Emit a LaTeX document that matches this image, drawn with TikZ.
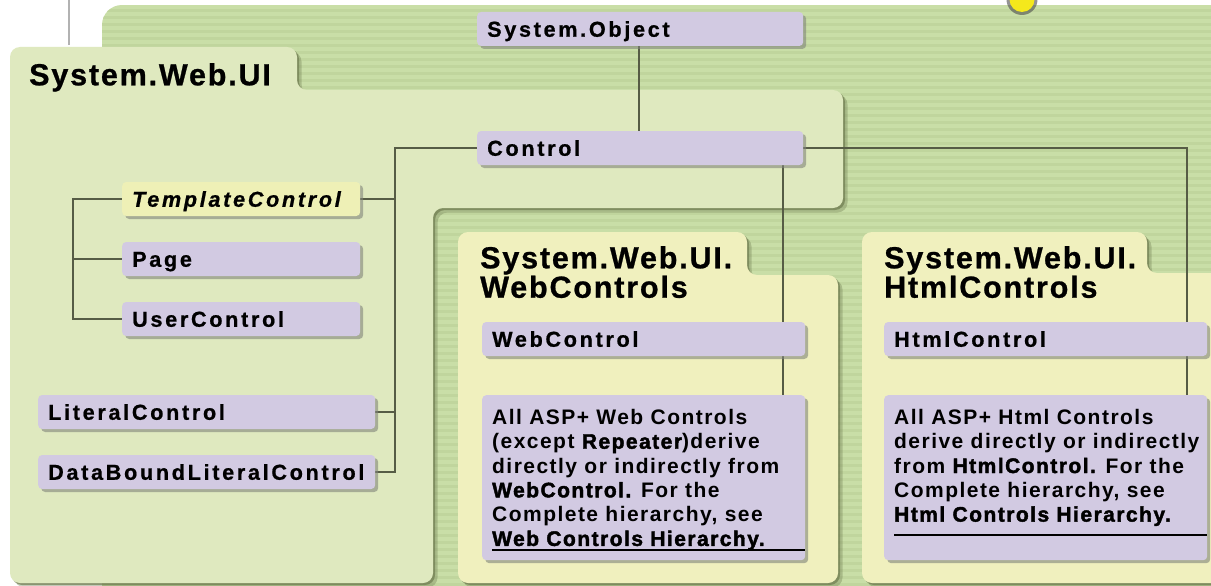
\documentclass[tikz,border=0pt]{standalone}
\usepackage{fontspec}
\setmainfont{Liberation Sans}
\newfontfamily\lblfont{Liberation Sans}[LetterSpace=12.5, FakeBold=0.8]
\newfontfamily\ttlfont{Liberation Sans}[LetterSpace=6, FakeBold=0.8]
\newfontfamily\dscfont{Liberation Sans Bold}[LetterSpace=7]
\newfontfamily\dschv{Liberation Sans Bold}[LetterSpace=7, FakeBold=2]
\newcommand\hv[1]{{\dschv #1}}
\usetikzlibrary{shadows}
\definecolor{bggreen}{HTML}{C9DEA7}
\definecolor{bgstripe}{HTML}{C0D59D}
\definecolor{uipanel}{HTML}{DFE9BF}
\definecolor{ylpanel}{HTML}{F0F0BE}
\definecolor{lav}{HTML}{D2CAE2}
\definecolor{tmplyel}{HTML}{EEF0B6}
\definecolor{conncol}{HTML}{565C45}
\definecolor{pshadow}{HTML}{6F7C50}
\definecolor{bshadow}{HTML}{80847A}
\definecolor{circyel}{HTML}{F4E81C}
\pgfdeclarelayer{panels}
\pgfdeclarelayer{lines}
\pgfsetlayers{panels,lines,main}
\newcommand\pWebUI{(10,583) -- (10,47) -- (297,47) -- (297,90) -- (843,90) -- (843,208) -- (433,208) -- (433,583) -- cycle}
\newcommand\pWebCtl{(458,583) -- (458,232) -- (747,232) -- (747,275) -- (838,275) -- (838,583) -- cycle}
\newcommand\pHtmlCtl{(862,583) -- (862,232) -- (1147,232) -- (1147,273) -- (1260,273) -- (1260,583) -- cycle}
\newcommand\drawpanel[2]{%
  \fill[pshadow,opacity=.35,rounded corners=10,shift={(4.5,4.5)}] #2;
  \fill[pshadow,opacity=.7,rounded corners=10,shift={(2,2)}] #2;
  \fill[#1,rounded corners=10] #2;}
\tikzset{
  lbl/.style={fill=lav, rounded corners=4, anchor=west, minimum height=34,
    inner xsep=10, inner ysep=0, text height=15.5, text depth=0,
    text width=#1, align=left,
    font=\lblfont\bfseries\fontsize{21.6}{24}\selectfont,
    drop shadow={shadow xshift=3pt, shadow yshift=-3pt, fill=bshadow, opacity=.6}},
  desc/.style={fill=lav, rounded corners=4, anchor=north west,
    inner xsep=10, inner ysep=14,
    drop shadow={shadow xshift=3pt, shadow yshift=-3pt, fill=bshadow, opacity=.6}},
  ttl/.style={anchor=north west, inner sep=0, align=left,
    font=\ttlfont\bfseries\fontsize{30.5}{25.5}\selectfont},
  conn/.style={draw=conncol, line width=2.4}
}
\begin{document}
\begin{tikzpicture}[x=1pt,y=-1pt]
\useasboundingbox (0,0) rectangle (1211,586);
% ---------- nodes ----------
\node[lbl=306] (sysobj) at (477,29) {System.Object};
\node[lbl=306] (control) at (477,148) {Control};
\node[lbl=218, fill=tmplyel] (template) at (122,199) {\itshape TemplateControl};
\node[lbl=218] (page) at (122,259) {Page};
\node[lbl=218] (userctl) at (122,319) {UserControl};
\node[lbl=317] (literal) at (38,412) {LiteralControl};
\node[lbl=317] (databound) at (38,472) {DataBoundLiteralControl};
\node[lbl=303] (webctl) at (482,339) {WebControl};
\node[lbl=303] (htmlctl) at (884,339) {HtmlControl};
\node[desc] (webdesc) at (482,395) {\parbox[c][137pt][t]{303pt}{\dscfont\fontsize{21}{24.3}\selectfont
\mbox{All ASP+ Web Controls}\\
\mbox{(except \hv{Repeater})derive}\\
\mbox{directly or indirectly from}\\
\mbox{\hv{WebControl.} For the}\\
\mbox{Complete hierarchy, see}\\
\makebox[0pt][l]{\rule[-5.2pt]{313pt}{2pt}}\mbox{\hv{Web Controls Hierarchy.}}}};
\node[desc] (htmldesc) at (884,395) {\parbox[c][137pt][t]{303pt}{\dscfont\fontsize{21}{24.3}\selectfont
\mbox{All ASP+ Html Controls}\\
\mbox{derive directly or indirectly}\\
\mbox{from \hv{HtmlControl.} For the}\\
\mbox{Complete hierarchy, see}\\
\makebox[0pt][l]{\rule[-14.5pt]{313pt}{2pt}}\mbox{\hv{Html Controls Hierarchy.}}}};
\node[ttl] (tUI) at (29,63) {System.Web.UI};
\node[ttl] (tWeb) at (480,246) {System.Web.UI.\\WebControls};
\node[ttl] (tHtml) at (884,246) {System.Web.UI.\\HtmlControls};
% ---------- connectors ----------
\coordinate (cx) at (639,0);
\coordinate (lbus) at (395,148);
\coordinate (tbus) at (73,199);
\coordinate (rbus) at (1187,148);
\coordinate (wx) at (783,0);
\begin{pgfonlayer}{lines}
\draw[conn] (sysobj.south -| cx) -- (control.north -| cx);
\draw[conn] (control.west) -- (lbus) -- (lbus |- databound.east) -- (databound.east);
\draw[conn] (template.east) -- (template.east -| lbus);
\draw[conn] (literal.east) -- (literal.east -| lbus);
\draw[conn] (template.west) -- (tbus) -- (tbus |- userctl.west) -- (userctl.west);
\draw[conn] (page.west) -- (page.west -| tbus);
\draw[conn] (control.east) -- (rbus) -- (rbus |- htmldesc.north);
\draw[conn] (control.south -| wx) -- (webdesc.north -| wx);
\end{pgfonlayer}
% ---------- background and panels ----------
\begin{pgfonlayer}{panels}
\fill[white] (0,0) rectangle (1211,586);
\draw[black!30, line width=1.5] (69,0) -- (69,45);
\begin{scope}
\clip[rounded corners=20] (102,5) rectangle (1260,620);
\fill[bggreen] (102,5) rectangle (1260,620);
\foreach \yy in {9,16,...,600} \fill[bgstripe] (102,\yy) rectangle (1260,\yy+3);
\end{scope}
\fill[black!70, opacity=.6] (1022,-0.5) circle[radius=15.5pt];
\fill[circyel] (1022,-0.5) circle[radius=12.5pt];
\drawpanel{uipanel}{\pWebUI}
\drawpanel{ylpanel}{\pWebCtl}
\drawpanel{ylpanel}{\pHtmlCtl}
\end{pgfonlayer}
\end{tikzpicture}
\end{document}
